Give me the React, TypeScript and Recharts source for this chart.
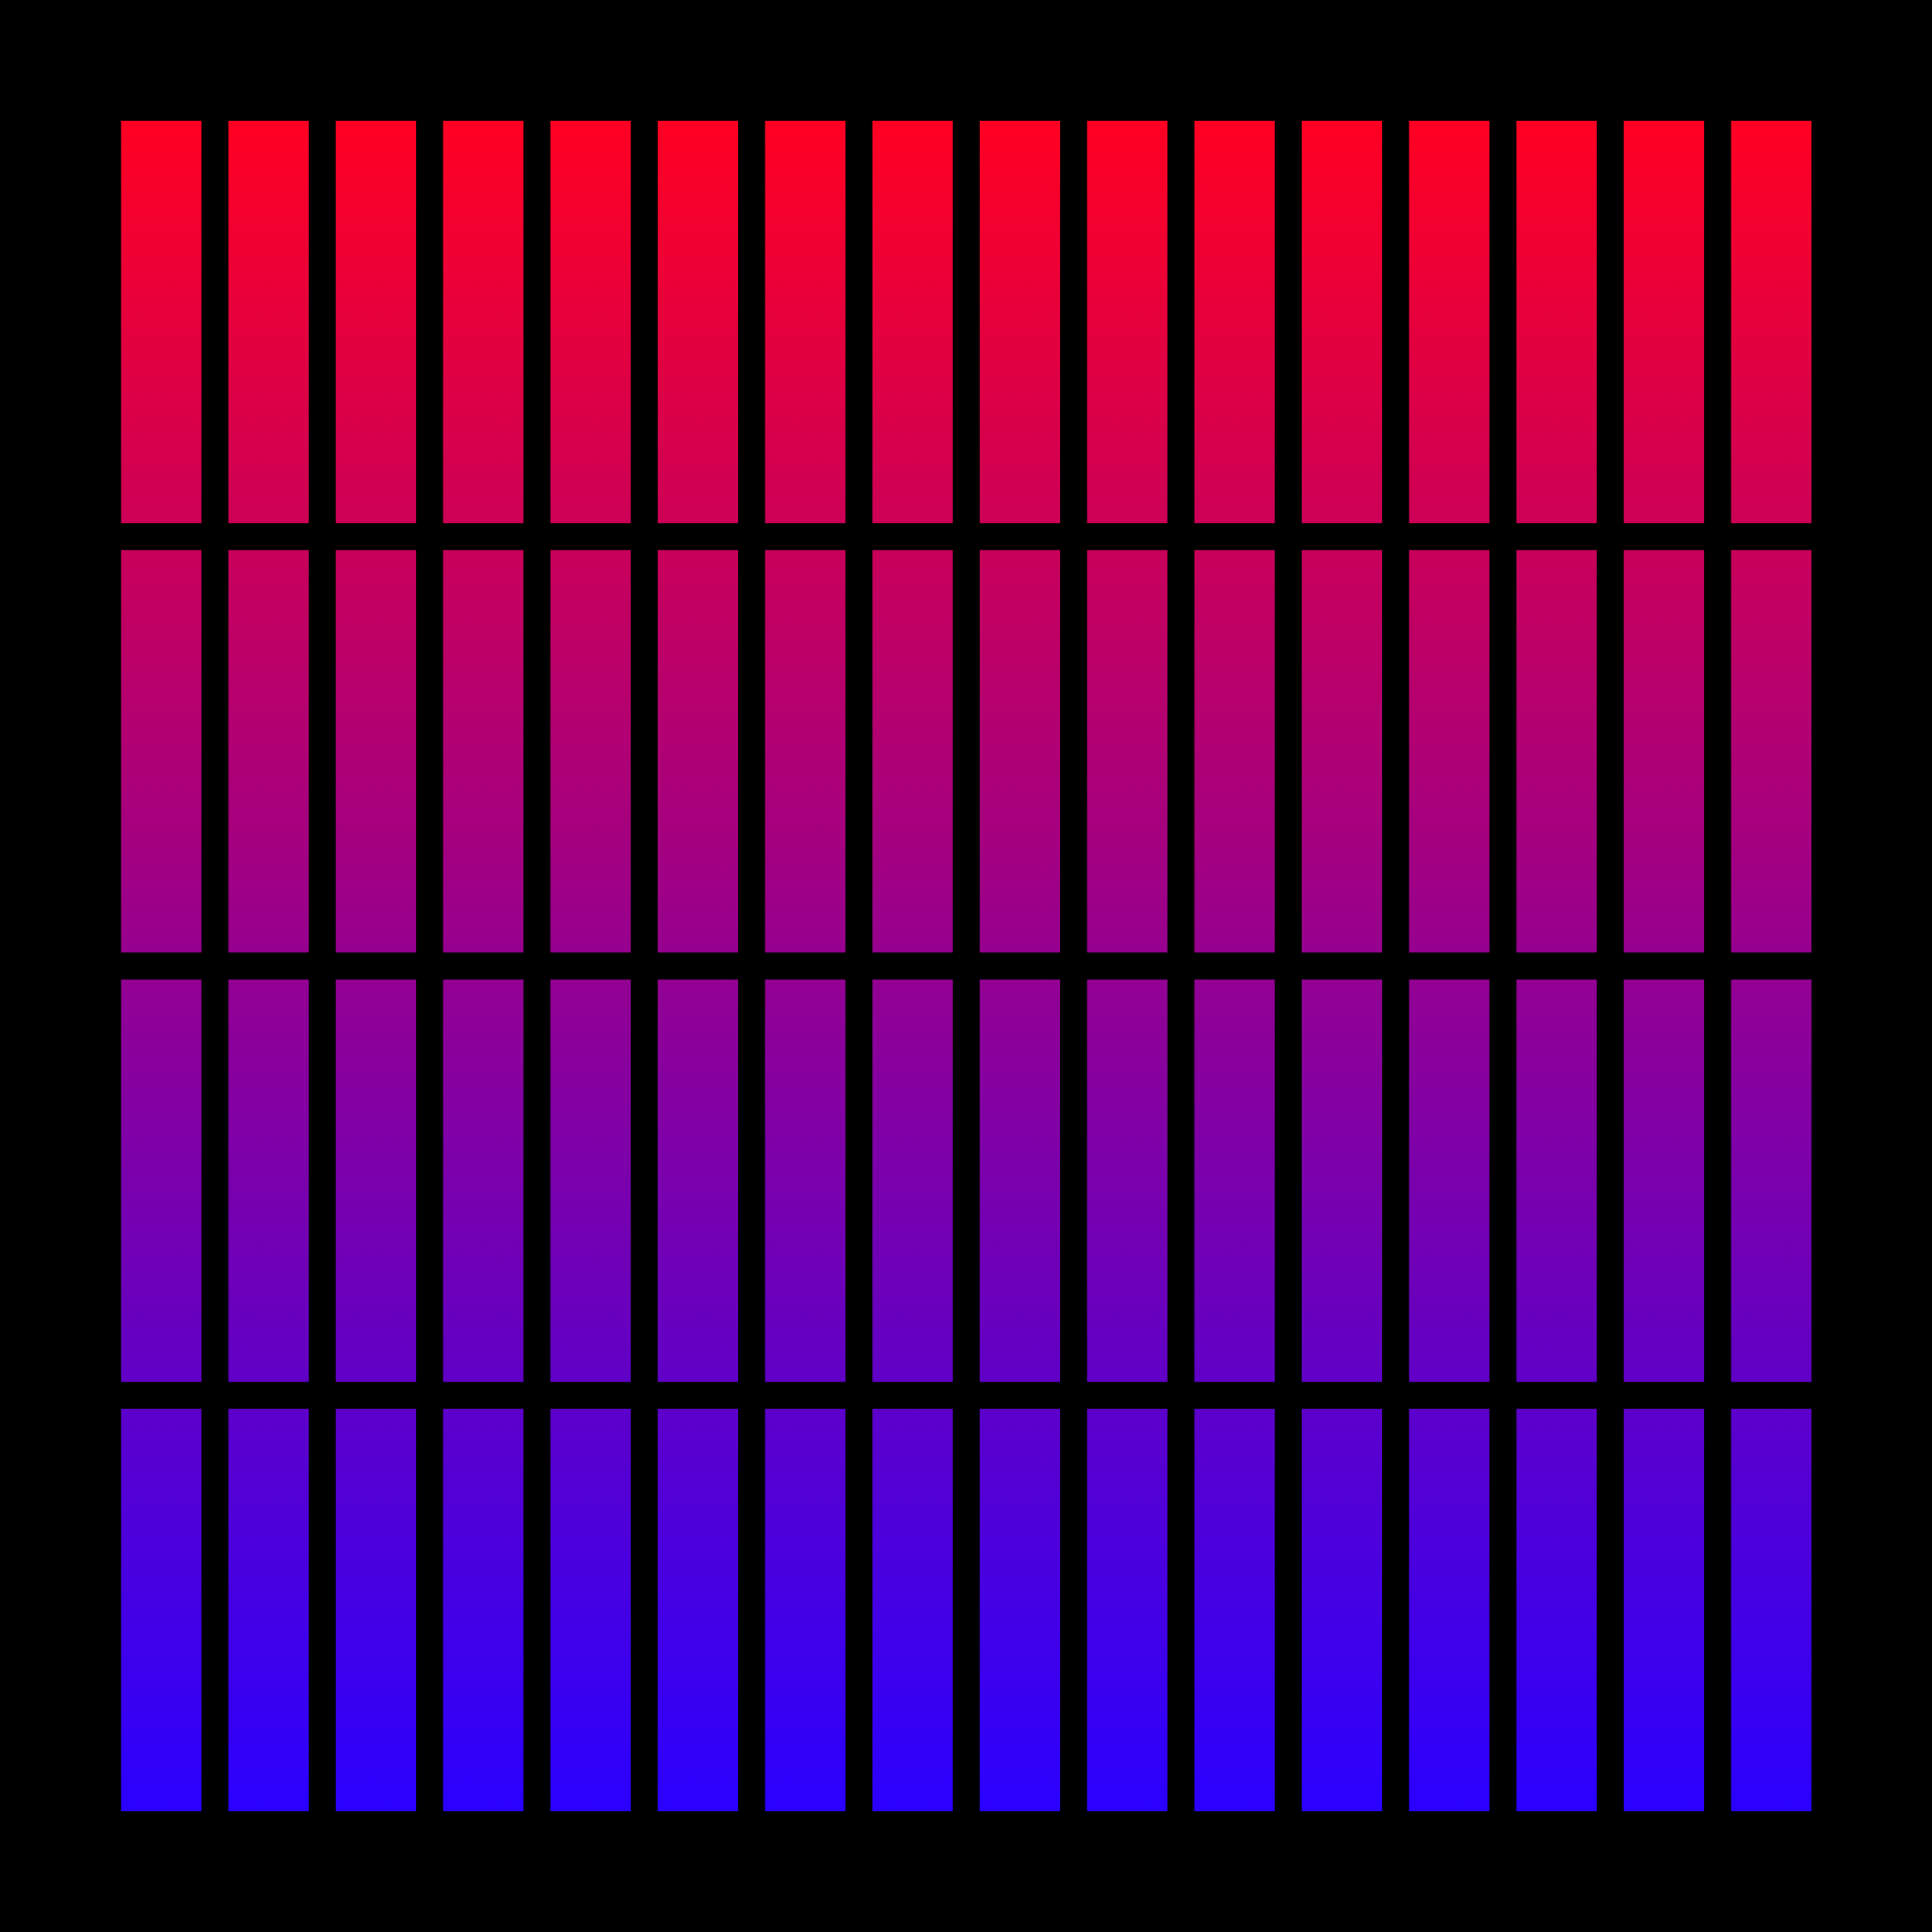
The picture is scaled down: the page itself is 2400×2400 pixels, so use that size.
import React from 'react';
import { BarChart, Bar, XAxis, YAxis } from 'recharts';

const categories = ['1', '2', '3', '4', '5', '6', '7', '8', '9', '10', '11', '12', '13', '14', '15', '16'];
const row1 = [15, 15, 15, 15, 15, 15, 15, 15, 15, 15, 15, 15, 15, 15, 15, 15];
const row2 = [15, 15, 15, 15, 15, 15, 15, 15, 15, 15, 15, 15, 15, 15, 15, 15];
const row3 = [15, 15, 15, 15, 15, 15, 15, 15, 15, 15, 15, 15, 15, 15, 15, 15];
const row4 = [15, 15, 15, 15, 15, 15, 15, 15, 15, 15, 15, 15, 15, 15, 15, 15];
const gapValues = [1, 1, 1, 1, 1, 1, 1, 1, 1, 1, 1, 1, 1, 1, 1, 1];

const data = categories.map((c, i) => ({
  name: c,
  r4: row4[i],
  g3: gapValues[i],
  r3: row3[i],
  g2: gapValues[i],
  r2: row2[i],
  g1: gapValues[i],
  r1: row1[i],
}));

export default function App() {
  const gap = 100 / 3;
  return (
    <div style={{ position: 'absolute', left: 0, top: 0, width: 2400, height: 2400, background: '#000' }}>
      <BarChart
        width={2400}
        height={2400}
        data={data}
        margin={{ top: 150, bottom: 150, left: 150 - gap / 2, right: 150 - gap / 2 }}
        barSize={100}
      >
        <defs>
          <linearGradient id="rb" gradientUnits="userSpaceOnUse" x1="0" y1="150" x2="0" y2="2250">
            <stop offset="0%" stopColor="#ff0022" />
            <stop offset="100%" stopColor="#2a00ff" />
          </linearGradient>
        </defs>
        <XAxis dataKey="name" hide padding={{ left: 0, right: 0 }} />
        <YAxis hide domain={[0, 63]} />
        <Bar dataKey="r4" stackId="s" fill="url(#rb)" isAnimationActive={false} />
        <Bar dataKey="g3" stackId="s" fill="transparent" isAnimationActive={false} />
        <Bar dataKey="r3" stackId="s" fill="url(#rb)" isAnimationActive={false} />
        <Bar dataKey="g2" stackId="s" fill="transparent" isAnimationActive={false} />
        <Bar dataKey="r2" stackId="s" fill="url(#rb)" isAnimationActive={false} />
        <Bar dataKey="g1" stackId="s" fill="transparent" isAnimationActive={false} />
        <Bar dataKey="r1" stackId="s" fill="url(#rb)" isAnimationActive={false} />
      </BarChart>
    </div>
  );
}
